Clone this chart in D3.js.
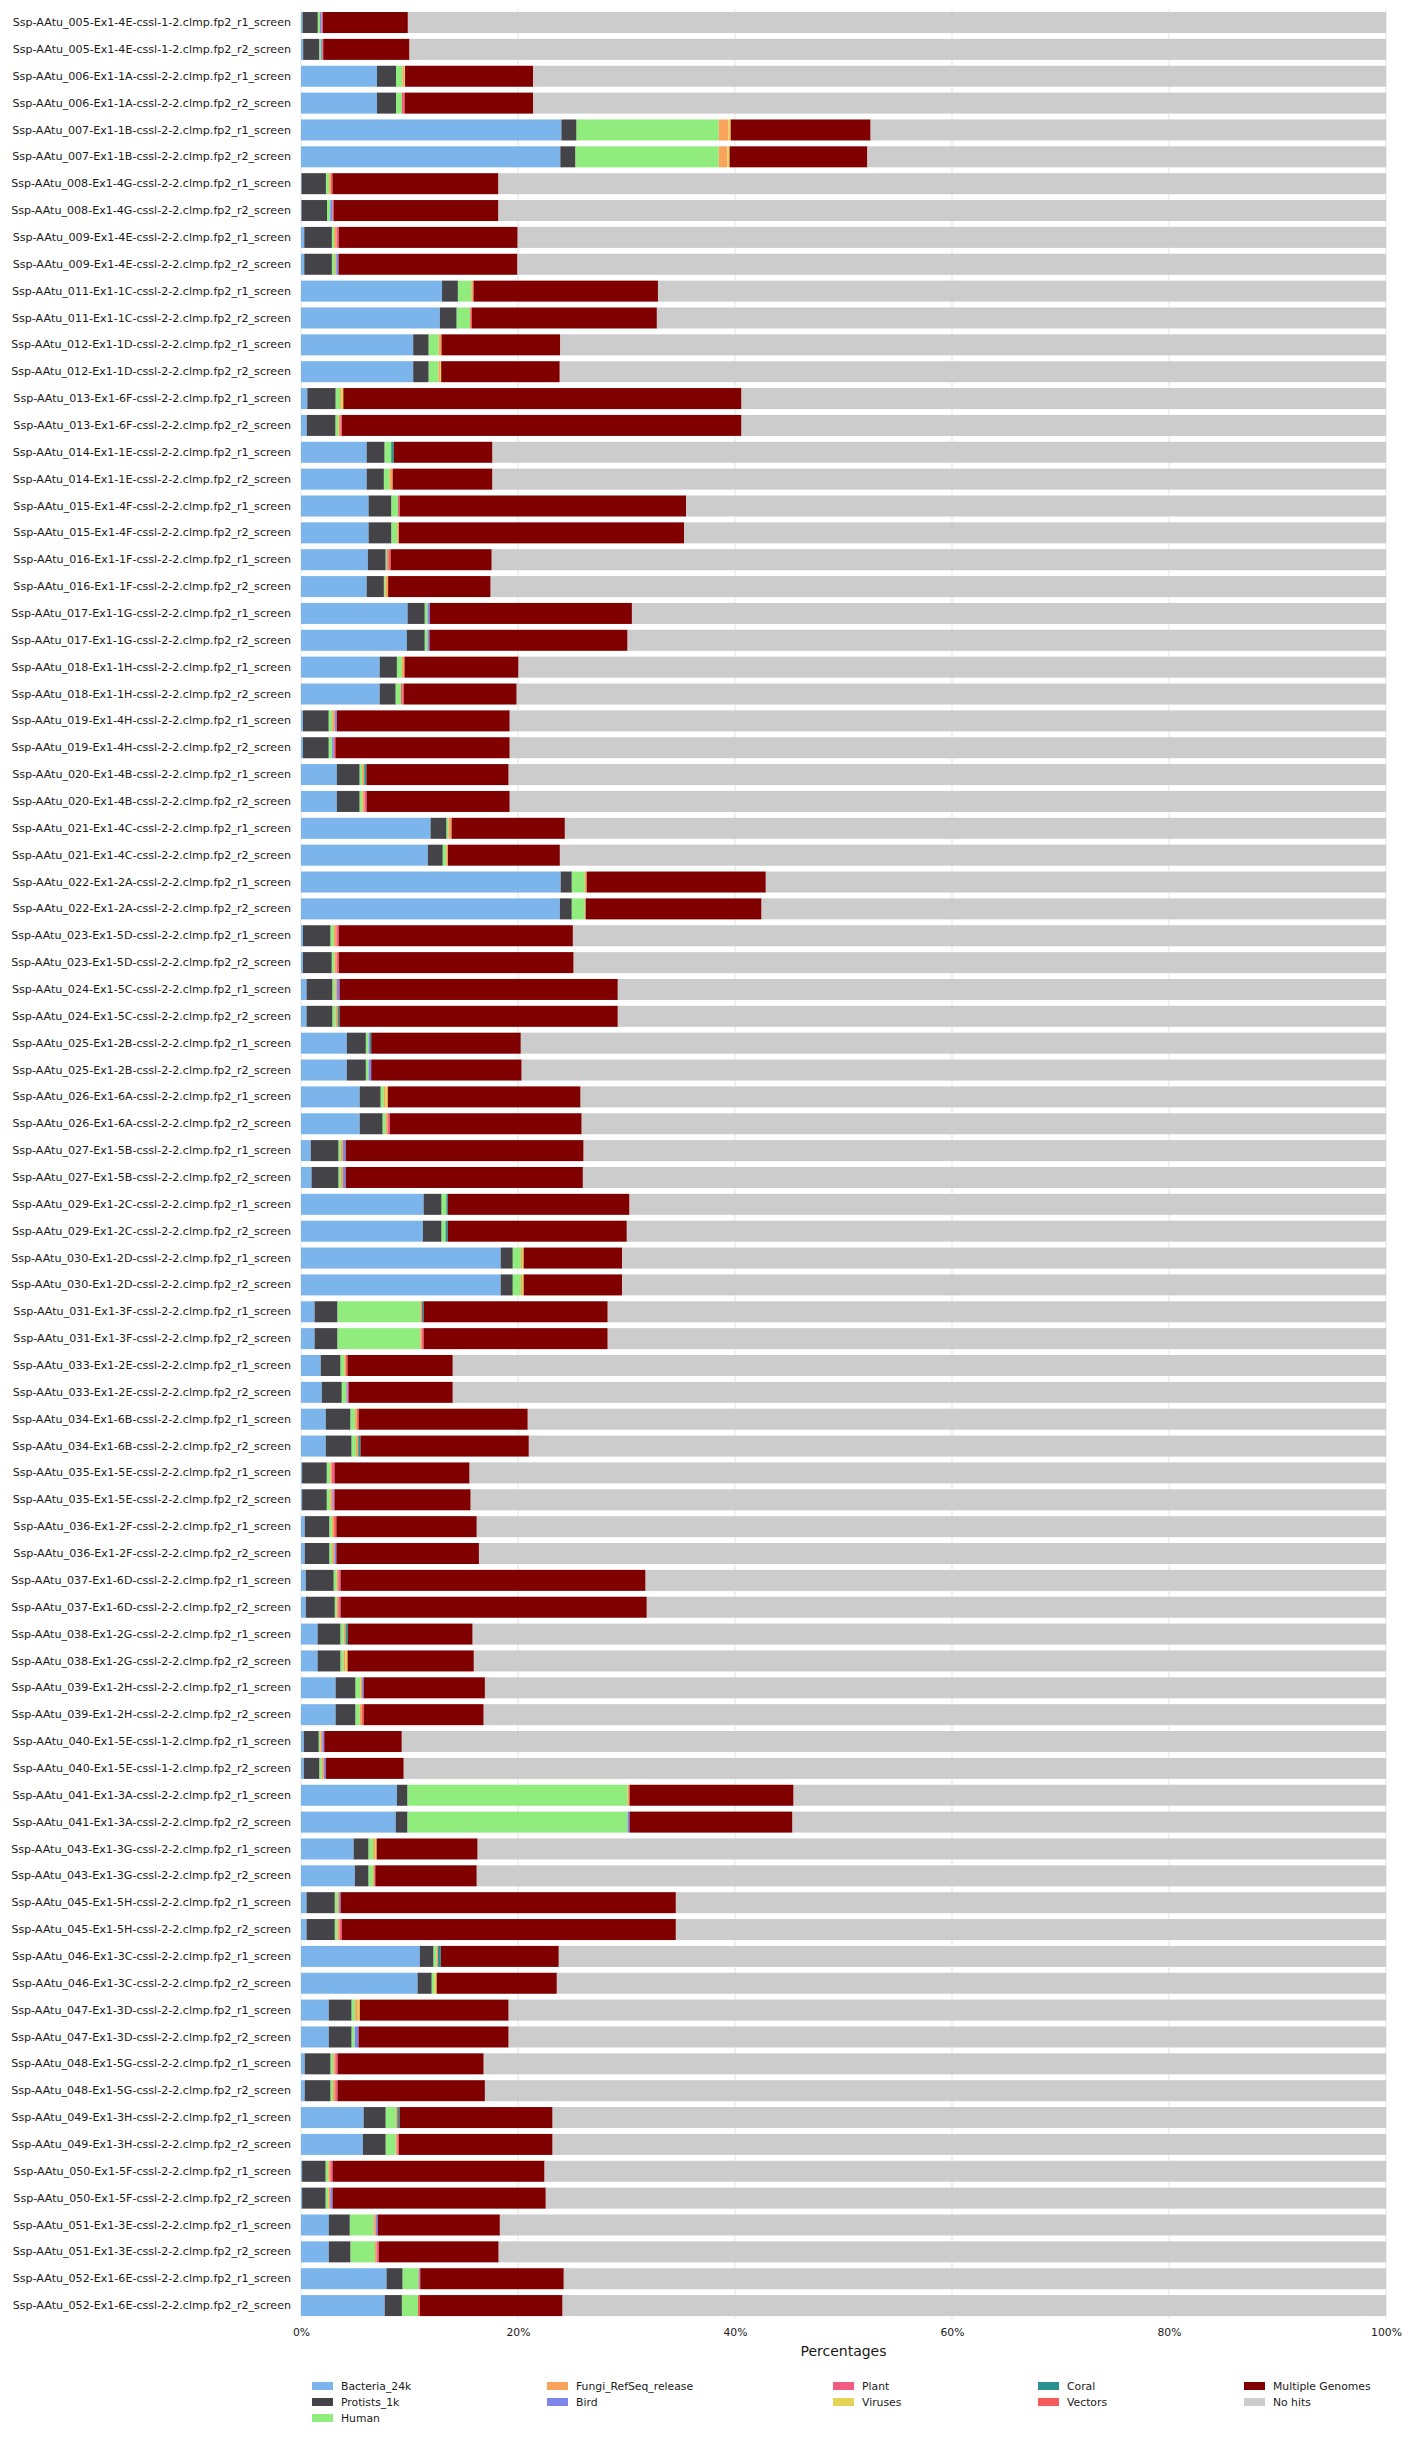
<!DOCTYPE html>
<html>
<head>
<meta charset="utf-8">
<script src="https://cdn.jsdelivr.net/npm/d3@7"></script>
<style>
  html, body { margin: 0; padding: 0; background: #ffffff; }
  svg { display: block; }
  text { font-family: "DejaVu Sans", sans-serif; }
</style>
</head>
<body>
<div id="chart"></div>
<script>
// ---------------- DATA ----------------
const samples = [
  "005-Ex1-4E-cssl-1-2","006-Ex1-1A-cssl-2-2","007-Ex1-1B-cssl-2-2","008-Ex1-4G-cssl-2-2",
  "009-Ex1-4E-cssl-2-2","011-Ex1-1C-cssl-2-2","012-Ex1-1D-cssl-2-2","013-Ex1-6F-cssl-2-2",
  "014-Ex1-1E-cssl-2-2","015-Ex1-4F-cssl-2-2","016-Ex1-1F-cssl-2-2","017-Ex1-1G-cssl-2-2",
  "018-Ex1-1H-cssl-2-2","019-Ex1-4H-cssl-2-2","020-Ex1-4B-cssl-2-2","021-Ex1-4C-cssl-2-2",
  "022-Ex1-2A-cssl-2-2","023-Ex1-5D-cssl-2-2","024-Ex1-5C-cssl-2-2","025-Ex1-2B-cssl-2-2",
  "026-Ex1-6A-cssl-2-2","027-Ex1-5B-cssl-2-2","029-Ex1-2C-cssl-2-2","030-Ex1-2D-cssl-2-2",
  "031-Ex1-3F-cssl-2-2","033-Ex1-2E-cssl-2-2","034-Ex1-6B-cssl-2-2","035-Ex1-5E-cssl-2-2",
  "036-Ex1-2F-cssl-2-2","037-Ex1-6D-cssl-2-2","038-Ex1-2G-cssl-2-2","039-Ex1-2H-cssl-2-2",
  "040-Ex1-5E-cssl-1-2","041-Ex1-3A-cssl-2-2","043-Ex1-3G-cssl-2-2","045-Ex1-5H-cssl-2-2",
  "046-Ex1-3C-cssl-2-2","047-Ex1-3D-cssl-2-2","048-Ex1-5G-cssl-2-2","049-Ex1-3H-cssl-2-2",
  "050-Ex1-5F-cssl-2-2","051-Ex1-3E-cssl-2-2","052-Ex1-6E-cssl-2-2"
];
const replicates = ["r1", "r2"];

const bacteria = [
  .15,.2,7.0,7.0,24.0,23.9,.05,.05,.3,.3,
  13.0,12.8,10.34,10.34,.58,.53,6.05,6.05,6.23,6.23,
  6.16,6.05,9.82,9.75,7.25,7.25,.18,.18,3.3,3.3,
  11.94,11.69,23.93,23.86,.18,.18,.51,.51,4.22,4.22,
  5.41,5.41,.9,.97,11.3,11.23,18.4,18.4,1.25,1.25,
  1.82,1.92,2.28,2.28,.1,.1,.34,.34,.44,.44,
  1.53,1.53,3.19,3.19,.26,.26,8.84,8.73,4.85,4.96,
  .51,.51,10.95,10.74,2.56,2.56,.34,.34,5.77,5.7,
  .1,.1,2.56,2.56,7.88,7.71
];
const protists = [
  1.4,1.5,1.76,1.76,1.4,1.4,2.25,2.35,2.55,2.55,
  1.46,1.55,1.43,1.43,2.62,2.66,1.66,1.59,2.11,2.11,
  1.65,1.59,1.59,1.66,1.59,1.48,2.38,2.38,2.11,2.11,
  1.48,1.38,1.03,1.1,2.55,2.66,2.4,2.4,1.76,1.76,
  1.94,2.12,2.57,2.5,1.66,1.73,1.12,1.12,2.12,2.12,
  1.83,1.84,2.29,2.39,2.28,2.28,2.29,2.29,2.58,2.68,
  2.12,2.12,1.84,1.84,1.38,1.45,.98,1.09,1.38,1.27,
  2.61,2.61,1.27,1.31,2.11,2.11,2.39,2.39,2.04,2.11,
  2.18,2.18,1.94,2.01,1.49,1.59
];
const human = [
  .2,.15,.58,.54,13.1,13.2,.3,.3,.2,.3,
  1.24,1.25,.93,.9,.4,.28,.6,.53,.6,.53,
  .14,.14,.25,.25,.46,.49,.31,.31,.22,.25,
  .18,.32,1.2,1.2,.29,.25,.25,.28,.25,.25,
  .29,.29,.22,.22,.43,.36,.75,.75,7.62,7.62,
  .35,.42,.42,.39,.32,.32,.24,.24,.28,.18,
  .28,.28,.46,.39,.14,.21,20.28,20.28,.42,.42,
  .25,.25,.25,.24,.32,.28,.25,.21,.92,.92,
  .24,.24,2.18,2.25,1.41,1.48
];
const fungi = [
  0,0,.15,0,.9,.8,.15,0,.22,.1,
  .2,0,.25,.15,.1,.15,0,.28,0,.15,
  0,.25,0,0,.24,0,.25,0,.2,.18,
  .28,.15,.17,.08,.24,.21,.14,.18,0,0,
  .16,.18,.18,.18,0,0,.1,.1,.14,.14,
  .14,0,.18,.21,.14,.18,.18,.21,.14,.14,
  .18,.18,.14,.18,.18,.18,.18,0,.18,.1,
  .14,.18,.14,0,.25,0,.18,.21,.14,.14,
  .18,.18,.21,.14,.11,0
];
const bird = [
  .15,.1,0,0,0,0,0,.2,0,.2,
  0,0,0,0,0,0,0,0,0,0,
  0,0,.21,.18,0,0,.18,.15,0,0,
  0,0,0,0,0,0,.25,0,.12,.24,
  0,0,.25,.25,0,0,0,0,0,0,
  0,.1,0,0,0,.1,0,.18,0,0,
  0,0,.14,0,.18,.18,0,.18,0,0,
  .14,0,0,0,0,.35,0,0,0,0,
  0,.21,.18,0,.1,0
];
const plant = [
  .1,.1,0,.2,0,0,0,.1,.2,0,
  0,0,0,0,0,.15,0,0,.15,0,
  .1,0,0,0,0,.15,0,.15,0,.2,
  0,0,0,0,.21,.18,0,0,0,0,
  0,.18,0,0,0,0,0,0,0,.17,
  0,.1,0,0,.25,.1,0,0,.21,.21,
  0,0,0,0,0,0,0,0,0,0,
  0,.21,0,0,0,0,.21,.21,0,.14,
  .21,0,0,.21,0,0
];
const viruses = [
  0,0,.1,0,.2,.2,0,0,0,0,
  0,0,0,.1,.2,0,0,0,0,0,
  0,0,0,0,0,0,0,0,0,0,
  0,0,0,0,0,0,0,0,0,0,
  .2,0,0,0,0,0,.15,.15,0,0,
  0,0,0,0,0,0,0,0,0,0,
  0,.18,0,0,0,0,0,0,.14,0,
  0,0,0,.21,.18,0,0,0,0,0,
  0,0,0,0,0,0
];
const coral = [
  0,0,0,0,0,0,0,0,0,0,
  0,0,0,0,0,0,.24,0,0,0,
  0,0,0,0,0,0,0,0,.2,0,
  0,0,0,0,0,0,0,.18,.12,0,
  0,0,0,0,.14,.21,0,0,.17,0,
  0,0,0,.21,0,0,0,0,0,0,
  .21,0,0,0,0,0,0,0,0,0,
  0,0,.28,0,0,0,0,0,.21,0,
  0,0,0,0,0,0
];
const vectors = [
  0,0,0,.05,0,0,.15,0,0,0,
  0,.15,0,0,0,0,0,0,0,0,
  .22,0,0,0,0,.1,0,0,0,0,
  0,0,0,0,0,0,0,0,0,0,
  0,0,0,0,0,0,0,0,0,0,
  .14,0,.14,0,0,0,.21,0,0,0,
  0,0,0,.18,0,0,0,0,0,.1,
  0,0,0,0,0,0,0,0,0,0,
  0,0,0,0,0,.18
];
const multiple = [
  7.85,7.95,11.8,11.85,12.9,12.7,15.3,15.2,16.5,16.5,
  17.0,17.05,10.95,10.93,36.7,36.83,9.1,9.2,26.4,26.28,
  9.31,9.45,18.63,18.26,10.51,10.41,15.94,16.07,13.11,13.2,
  10.44,10.32,16.51,16.21,21.59,21.65,25.65,25.65,13.79,13.87,
  17.77,17.69,21.93,21.86,16.75,16.5,9.08,9.08,16.97,16.97,
  9.71,9.61,15.59,15.52,12.45,12.56,12.94,13.14,28.11,28.22,
  11.5,11.64,11.18,11.06,7.15,7.19,15.12,15.02,9.31,9.35,
  30.9,30.79,10.87,11.08,13.72,13.84,13.47,13.59,14.11,14.18,
  19.54,19.65,11.26,11.05,13.23,13.15
];

const seriesNames = ["Bacteria_24k","Protists_1k","Human","Fungi_RefSeq_release","Bird",
  "Plant","Viruses","Coral","Vectors","Multiple Genomes","No hits"];
const seriesColors = ["#7cb5ec","#434348","#90ed7d","#f7a35c","#8085e9",
  "#f15c80","#e4d354","#2b908f","#f45b5b","#800000","#cccccc"];
const xTicks = [0, 20, 40, 60, 80, 100];
const xTitle = "Percentages";

// ---------------- BUILD TABLE ----------------
const labels = [];
samples.forEach(s => replicates.forEach(r => labels.push(`Ssp-AAtu_${s}.clmp.fp2_${r}_screen`)));
const seriesArrays = [bacteria, protists, human, fungi, bird, plant, viruses, coral, vectors, multiple];
const rows = labels.map((lab, i) => {
  const row = { label: lab };
  let sum = 0;
  seriesArrays.forEach((arr, k) => { row[seriesNames[k]] = arr[i]; sum += arr[i]; });
  row["No hits"] = 100 - sum;
  return row;
});

// ---------------- LAYOUT ----------------
const W = 1411, H = 2439;
const plotLeft = 301, plotRight = 1386;
const plotTop = 9.1, plotBottom = 2319;

const svg = d3.select("#chart").append("svg").attr("width", W).attr("height", H);

const x = d3.scaleLinear().domain([0, 100]).range([plotLeft, plotRight]);
const y = d3.scaleBand().domain(labels).range([plotTop, plotBottom])
  .paddingInner(0.218).paddingOuter(0.109);

// grid
svg.append("g").selectAll("line").data(xTicks).join("line")
  .attr("x1", d => x(d)).attr("x2", d => x(d))
  .attr("y1", plotTop).attr("y2", plotBottom)
  .attr("stroke", "#e3e3e3").attr("stroke-width", 1);

// stacked bars
const stack = d3.stack().keys(seriesNames);
const stacked = stack(rows);
const color = d3.scaleOrdinal().domain(seriesNames).range(seriesColors);

svg.append("g").selectAll("g").data(stacked).join("g")
  .attr("fill", d => color(d.key))
  .selectAll("rect").data(d => d).join("rect")
  .attr("x", d => x(d[0]))
  .attr("width", d => Math.max(0, x(d[1]) - x(d[0])))
  .attr("y", d => y(d.data.label))
  .attr("height", y.bandwidth());

// y axis
const yAxis = svg.append("g").attr("transform", `translate(${plotLeft},0)`)
  .call(d3.axisLeft(y).tickSize(0).tickPadding(10));
yAxis.select(".domain").remove();
yAxis.selectAll("text").attr("font-size", "11.1px").attr("fill", "#1a1a1a")
  .attr("font-family", "DejaVu Sans, sans-serif");

// x axis
const xAxis = svg.append("g").attr("transform", `translate(0,${plotBottom})`)
  .call(d3.axisBottom(x).tickValues(xTicks).tickFormat(d => d + "%").tickSize(0).tickPadding(9));
xAxis.select(".domain").remove();
xAxis.selectAll("text").attr("font-size", "10.8px").attr("fill", "#1a1a1a")
  .attr("font-family", "DejaVu Sans, sans-serif");

svg.append("text")
  .attr("x", (plotLeft + plotRight) / 2).attr("y", 2356)
  .attr("text-anchor", "middle").attr("font-size", "14px").attr("fill", "#1a1a1a")
  .text(xTitle);

// legend (5 columns, column-major)
const legendCols = [312, 547, 833, 1038, 1244];
const legendRows = [2386, 2402, 2418];
const colSizes = [3, 2, 2, 2, 2];
let idx = 0;
const legendItems = [];
colSizes.forEach((n, c) => {
  for (let r = 0; r < n; r++) { legendItems.push({ name: seriesNames[idx], col: c, row: r }); idx++; }
});
const lg = svg.append("g").selectAll("g").data(legendItems).join("g")
  .attr("transform", d => `translate(${legendCols[d.col]},${legendRows[d.row]})`);
lg.append("rect").attr("x", 0).attr("y", -4).attr("width", 21).attr("height", 8)
  .attr("fill", d => color(d.name));
lg.append("text").attr("x", 29).attr("y", 0).attr("dy", "0.35em")
  .attr("font-size", "10.8px").attr("fill", "#1a1a1a").text(d => d.name);
</script>
</body>
</html>
